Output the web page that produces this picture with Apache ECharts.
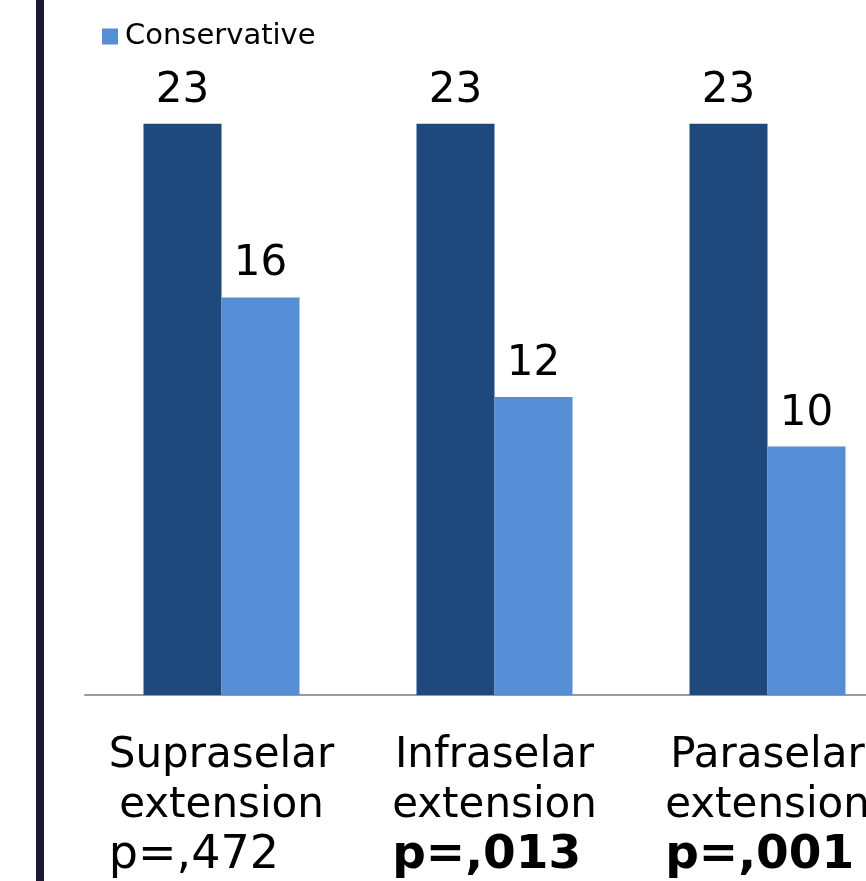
<!DOCTYPE html>
<html>
<head>
<meta charset="utf-8">
<script src="https://cdn.jsdelivr.net/npm/echarts@6/dist/echarts.min.js"></script>
<style>
  html, body { margin: 0; padding: 0; background: #fff; }
  #chart { width: 866px; height: 881px; }
</style>
</head>
<body>
<div id="chart"></div>
<script>
// 数据
var categories = ['Supraselar\nextension', 'Infraselar\nextension', 'Paraselar\nextension'];
var pValues = ['p=,472', 'p=,013', 'p=,001'];
var pBold = [false, true, true];
var totalValues = [23, 23, 23];
var conservativeValues = [16, 12, 10];

var chart = echarts.init(document.getElementById('chart'));

var font = 'DejaVu Sans, Verdana, sans-serif';

var option = {
  backgroundColor: '#ffffff',
  animation: false,
  textStyle: { fontFamily: font },
  graphic: [
    // 左侧竖线
    { type: 'rect', left: 36, top: 0, shape: { width: 8, height: 881 }, style: { fill: '#1c1a35' } }
  ],
  legend: {
    data: ['Conservative'],
    left: 97,
    top: 17,
    itemWidth: 16,
    itemHeight: 16,
    itemGap: 10,
    icon: 'rect',
    textStyle: { fontSize: 29, color: '#000', fontFamily: font, padding: [0, 0, 0, 2] }
  },
  // 网格右侧超出画面（图被裁切）
  grid: { left: 85, width: 819, top: 74, bottom: 186, containLabel: false, outerBoundsMode: 'none' },
  xAxis: {
    type: 'category',
    data: categories,
    axisLine: { lineStyle: { color: '#9a9a9a', width: 2 } },
    axisTick: { show: false },
    axisLabel: {
      interval: 0,
      margin: 36,
      color: '#000',
      fontSize: 42,
      lineHeight: 50,
      fontFamily: font,
      formatter: function (val, idx) {
        var p = pBold[idx] ? '{pb|' + pValues[idx] + '}' : '{p|' + pValues[idx] + '}';
        return '{c|' + val.split('\n').join('}\n{c|') + '}\n' + p;
      },
      rich: {
        c: { fontSize: 42, lineHeight: 50, fontFamily: font, color: '#000' },
        p: { fontSize: 46, lineHeight: 50, fontFamily: font, color: '#000', align: 'left' },
        pb: { fontSize: 47, lineHeight: 50, fontFamily: font, color: '#000', fontWeight: 'bold', align: 'left' }
      }
    }
  },
  yAxis: {
    type: 'value',
    min: 0,
    max: 25,
    show: false,
    splitLine: { show: false }
  },
  series: [
    {
      name: 'Total',
      type: 'bar',
      data: totalValues,
      barWidth: 78,
      barGap: '0%',
      itemStyle: { color: '#1f497d' },
      label: { show: true, position: 'top', distance: 12, fontSize: 42, color: '#000', fontFamily: font }
    },
    {
      name: 'Conservative',
      type: 'bar',
      data: conservativeValues,
      barWidth: 78,
      barGap: '0%',
      itemStyle: { color: '#558ed5' },
      label: { show: true, position: 'top', distance: 12, fontSize: 42, color: '#000', fontFamily: font }
    }
  ]
};

chart.setOption(option);
</script>
</body>
</html>
